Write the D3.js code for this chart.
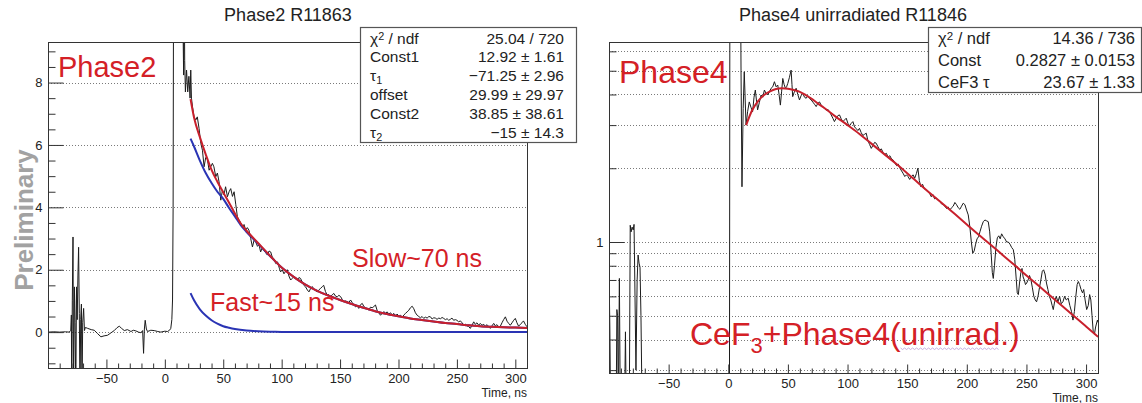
<!DOCTYPE html>
<html>
<head>
<meta charset="utf-8">
<script src="https://cdn.jsdelivr.net/npm/d3@7"></script>
<style>
  html, body { margin: 0; padding: 0; background: #fff; }
  svg text { font-family: "Liberation Sans", Arial, Helvetica, sans-serif; }
</style>
</head>
<body>
<svg id="chart" width="1142" height="403"></svg>
<script>
// values (time in ns, amplitude)
const xTicks = [-50, 0, 50, 100, 150, 200, 250, 300];
const phase2YTicks = [0, 2, 4, 6, 8];
const phase4YMajor = [1];
const phase4YMinor = [0.3, 0.4, 0.5, 0.6, 0.7, 0.8, 0.9, 2, 3, 4, 5, 6];

const phase2Data = [
  [-100,0],[-95,0.01],[-90,0],[-85,0.01],[-82,0],[-80.5,0.05],[-80,0.55],[-79.7,-2],[-79.2,1.0],[-78.6,3.05],
  [-78.1,-2],[-77.4,1.45],[-76.8,0.3],[-76.2,-2],[-75.6,1.45],[-75,0.4],[-74.4,1.8],[-73.8,2.72],[-73.2,0.6],[-72.6,-2],
  [-72,0.4],[-71.4,0.9],[-70.9,-2],[-70.3,0.3],[-69.5,0.76],[-68.8,0.05],[-68,0.15],[-66,0.12],[-63,0.08],[-60.4,0.06],
  [-57.5,-0.05],[-54.7,-0.15],[-52,-0.12],[-49,-0.1],[-46,-0.02],[-43.3,0.05],[-41,0.14],[-39,0.19],[-37,0.12],[-34.7,0.05],
  [-32,0.08],[-29,0.02],[-27,0.06],[-24.8,0.04],[-22.5,0.0],[-20.5,-0.02],[-19,0.05],[-18.2,-0.68],[-17.5,0.1],[-16.8,0.38],
  [-15.8,0.1],[-14.8,0.02],[-12,0.06],[-9.1,0.05],[-6,0.02],[-3.4,0],[0,0.03],[2.3,0.02],[4,0.06],[5.1,0.12],
  [6,0.4],[6.6,1.03],[7.1,4],[7.5,12],[14.8,12],[16.1,8.24],[16.5,12],[17,8.7],[17.6,7.7],[18.6,8.4],
  [19.6,7.7],[20.6,8.2],[21.6,7.5],[22.2,8.4],[22.8,7.5],[23.8,7.2],[25,6.9],[26.5,6.8],[27.8,6.9],[29.3,6.53],
  [30.8,6.05],[32.2,5.83],[33.6,5.3],[35,5.6],[36.4,5.55],[37.9,5.19],[39.3,5.3],[40.7,5.41],[42,5.3],[43.6,4.98],
  [45,5.1],[46.4,4.82],[47.9,4.23],[49.3,4.55],[50.6,4.4],[52,4.66],[53.6,4.34],[55,4.5],[56.4,4.6],[57.9,4.35],
  [59.3,4.5],[60.7,4.1],[62.1,3.7],[63.5,3.59],[65,3.5],[66.4,3.37],[67.8,3.45],[69.2,3.27],[70.6,3.35],[72,3.27],
  [73.5,3.0],[75,2.73],[76.4,2.95],[77.8,2.89],[79.3,2.75],[80.6,2.8],[82,2.57],[83.4,2.7],[84.7,2.62],[86.2,2.55],
  [87.8,2.47],[89.2,2.6],[90.6,2.57],[92,2.4],[93.5,2.35],[94.9,2.2],[96.5,2.25],[98,2.05],[99.1,1.93],[100.5,2.0],
  [102,1.87],[103.4,1.95],[104.8,2.0],[106.2,1.8],[107.7,1.67],[109,1.72],[110.5,1.78],[112,1.7],[113.4,1.67],[114.8,1.75],
  [116.2,1.72],[117.6,1.6],[119,1.5],[120.5,1.45],[122,1.35],[123.4,1.29],[124.8,1.4],[126.2,1.46],[127.6,1.38],[129,1.33],
  [130.5,1.29],[132,1.36],[133.3,1.4],[134.8,1.46],[136,1.5],[137.5,1.3],[139,1.19],[140.5,1.2],[141.9,1.13],[143.3,1.2],
  [144.7,1.24],[146.2,1.15],[147.6,1.13],[149,1.18],[150.4,1.14],[151.8,1.05],[153.3,0.97],[154.7,1.0],[156,0.98],[157.5,0.95],
  [159,1.03],[160.4,0.95],[161.7,0.87],[163.2,0.81],[164.6,0.85],[166,0.76],[167.5,0.88],[169,0.92],[170.4,0.82],[171.8,0.78],
  [173.2,0.75],[174.6,0.71],[176,0.8],[177.5,0.78],[178.9,0.82],[180.3,0.87],[181.7,0.7],[183.2,0.62],[184.6,0.54],[186,0.6],
  [187.5,0.66],[188.9,0.6],[190.3,0.65],[191.7,0.58],[193.2,0.62],[194.6,0.55],[196,0.6],[197.5,0.52],[198.9,0.58],[200.3,0.5],
  [201.7,0.54],[203.2,0.48],[204.6,0.55],[206,0.6],[207.4,0.65],[208.8,0.7],[210.2,0.78],[211.7,0.83],[213.1,0.75],[214.5,0.62],
  [216,0.54],[217.4,0.5],[218.8,0.46],[220.2,0.5],[221.6,0.44],[223,0.48],[224.5,0.45],[226,0.5],[227.4,0.49],[228.8,0.42],
  [230.2,0.46],[231.6,0.45],[233,0.41],[234.5,0.45],[236,0.43],[237.3,0.47],[238.7,0.44],[240.2,0.4],[241.6,0.43],[243,0.38],
  [244.4,0.41],[245.8,0.45],[247.2,0.38],[248.6,0.4],[250,0.38],[251.5,0.33],[253,0.36],[254.4,0.3],[255.8,0.22],[257.2,0.26],
  [258.6,0.2],[260,0.18],[261.5,0.12],[262.9,0.22],[264.4,0.33],[265.8,0.25],[267.2,0.3],[268.6,0.22],[270,0.28],[271.5,0.22],
  [273,0.25],[274.4,0.19],[275.8,0.24],[277.2,0.18],[278.6,0.12],[280,0.2],[281.5,0.28],[282.9,0.2],[284.3,0.24],[285.8,0.17],
  [287.2,0.19],[288.6,0.3],[290,0.4],[291.5,0.49],[292.9,0.35],[294.3,0.28],[295.7,0.22],[297.2,0.3],[298.6,0.38],[300,0.44],
  [301.4,0.3],[302.8,0.19],[304.3,0.25],[305.7,0.3],[307,0.36],[308.5,0.25],[310,0.17]
];
const phase2Fit = [
  [22,7.47],[25,6.88],[30,6.25],[35,5.7],[40,5.2],[45,4.82],[50,4.48],[55,4.15],[60,3.8],[65,3.48],[70,3.25],
  [80,2.85],[90,2.45],[100,2.07],[110,1.78],[120,1.53],[130,1.33],[140,1.17],[150,1.03],[160,0.9],[170,0.78],
  [180,0.67],[190,0.58],[200,0.51],[210,0.44],[220,0.39],[230,0.34],[240,0.29],[250,0.26],[260,0.22],[270,0.19],
  [280,0.17],[290,0.155],[300,0.145],[310,0.135]
];
const phase2Slow = [
  [22,6.2],[25,5.95],[30,5.5],[35,5.1],[40,4.78],[45,4.5],[50,4.27],[55,3.98],[60,3.71],[65,3.43],[70,3.21],
  [80,2.83],[90,2.44],[100,2.07],[110,1.78],[120,1.53],[130,1.33],[140,1.17],[150,1.03],[160,0.9],[170,0.78],
  [180,0.67],[190,0.58],[200,0.51],[210,0.44],[220,0.39],[230,0.34],[240,0.29],[250,0.26],[260,0.22],[270,0.19],
  [280,0.17],[290,0.155],[300,0.145],[310,0.135]
];
const phase2Fast = [
  [22,1.25],[25,1.02],[30,0.73],[35,0.53],[40,0.38],[45,0.27],[50,0.19],[55,0.14],[60,0.1],[70,0.05],[80,0.025],
  [90,0.012],[100,0.006],[120,0.002],[150,0],[200,0],[250,0],[310,0]
];

const phase4Data = [
  [-100,0.2],[-99.8,0.667],[-99.3,0.45],[-98.6,0.2],[-94,0.2],[-93.4,0.53],[-92.8,0.5],[-92.2,0.2],[-91.3,0.71],[-90.5,0.2],
  [-87,0.2],[-86.2,0.43],[-85.5,0.2],[-83,0.2],[-82.2,1.17],[-81.5,1.1],[-80.6,1.15],[-79.7,1.12],[-79,1.18],[-78.2,0.6],
  [-77.4,0.3],[-76.4,0.7],[-75.6,0.885],[-74.8,0.82],[-74,0.79],[-73.2,0.5],[-72.2,0.2],[-60,0.2],[-30,0.2],[0,0.2],
  [1,0.2],[1.4,20],[10,20],[10.7,5.03],[11.5,1.68],[12.5,3.5],[13.4,4.95],[14.9,3.0],[16.2,3.4],[17.6,3.73],
  [19,3.55],[20.4,3.4],[21.6,3.9],[22.7,4.17],[23.6,3.8],[24.6,3.46],[26,3.7],[27.5,3.98],[28.9,3.9],[30.3,4.17],
  [31.6,4.05],[33,3.98],[34.5,4.1],[35.9,4.24],[37.3,4.3],[38.7,4.51],[40.1,4.3],[41.5,4.37],[42.6,4.0],[43.7,3.62],
  [44.7,4.1],[45.7,4.65],[46.8,4.4],[47.9,4.24],[48.9,4.3],[49.9,4.44],[51.3,4.7],[52.7,5.03],[53.4,4.4],[54,3.92],
  [55.4,4.1],[56.9,4.24],[58.3,4.0],[59.7,3.8],[61,3.95],[62.4,4.05],[63.9,3.9],[65.3,3.86],[66.7,3.95],[68.1,3.85],
  [69.5,3.8],[71,3.72],[72.3,3.65],[73.7,3.57],[75.1,3.68],[76.5,3.73],[77.9,3.62],[79.3,3.55],[80.7,3.51],[82,3.45],
  [83.5,3.48],[84.9,3.4],[86.3,3.3],[87.7,3.2],[89,3.1],[90.5,3.2],[91.9,3.28],[93.3,3.3],[94.7,3.18],[96.1,3.1],
  [97.5,3.15],[98.9,3.2],[100.3,3.05],[101.7,2.98],[103.1,3.05],[104.5,3.1],[105.9,2.95],[107.3,2.9],[108.7,2.85],[110,2.91],
  [111.4,2.8],[112.8,2.72],[114.2,2.75],[115.7,2.78],[117,2.6],[118.5,2.5],[119.9,2.41],[121.3,2.48],[122.7,2.55],[124,2.53],
  [125.5,2.45],[127,2.37],[128.3,2.4],[129.8,2.32],[131.2,2.28],[132.6,2.3],[134,2.22],[135.5,2.25],[136.9,2.18],[138.3,2.16],
  [139.7,2.1],[141.1,2.05],[142.5,2.08],[144,2.0],[145.3,1.95],[146.5,1.91],[148,1.85],[149.4,1.88],[150.7,1.85],[152.1,1.8],
  [153.5,1.85],[155,1.88],[156.3,1.82],[157.7,1.9],[159,2.0],[160.2,1.78],[161.5,1.68],[162.9,1.72],[164.4,1.65],[166,1.63],
  [167.4,1.6],[168.8,1.58],[170.2,1.53],[171.6,1.56],[173,1.5],[174.5,1.51],[176,1.48],[177.4,1.47],[178.8,1.43],[180.2,1.42],
  [181.6,1.4],[183,1.37],[184.4,1.39],[185.8,1.35],[187.2,1.38],[188.6,1.4],[190,1.45],[191.4,1.42],[192.8,1.38],[194.2,1.36],
  [195.6,1.4],[197,1.44],[198.4,1.42],[199.8,1.35],[201.2,1.29],[202.6,1.15],[203.8,1.0],[205,0.9],[206.2,0.92],[207.4,0.98],
  [208.6,1.03],[209.8,1.05],[211,1.1],[212.4,1.16],[213.8,1.21],[215.2,1.23],[216.6,1.22],[218,1.21],[219.2,1.1],[220.4,0.9],
  [221.4,0.75],[222.2,0.71],[223.2,0.8],[224.4,0.95],[225.6,1.04],[226.8,1.06],[228,1.03],[229.2,1.08],[230.6,1.05],[232,1.03],
  [233.4,1.0],[234.8,1.0],[236.2,0.98],[237.6,0.95],[239,0.93],[240.2,0.85],[241.3,0.72],[242.3,0.62],[243.2,0.61],[244.2,0.68],
  [245.3,0.75],[246.3,0.78],[247.2,0.72],[248.2,0.7],[249.2,0.67],[250.2,0.68],[251.4,0.7],[252.6,0.73],[253.8,0.7],[255,0.65],
  [256.2,0.6],[257.4,0.58],[258.5,0.57],[259.7,0.6],[260.9,0.65],[262.1,0.7],[263.3,0.76],[264.4,0.77],[265.6,0.74],[266.8,0.68],
  [268,0.64],[269.2,0.6],[270.4,0.58],[271.6,0.55],[272.5,0.53],[273.6,0.57],[275,0.6],[276.4,0.57],[277.8,0.6],[279.2,0.56],
  [280.6,0.57],[282,0.6],[283.4,0.58],[285,0.59],[286.4,0.55],[287.8,0.52],[289,0.48],[290.2,0.52],[291.4,0.6],[292.5,0.67],
  [293.5,0.69],[294.6,0.67],[295.8,0.64],[297,0.62],[298,0.64],[299.2,0.58],[300.5,0.53],[301.8,0.55],[303,0.61],[304,0.58],
  [305,0.5],[306,0.43],[307,0.42],[308,0.45],[309.5,0.48],[310,0.47]
];
const phase4Fit = [
  [15,3.0],[20,3.45],[25,3.76],[30,3.98],[35,4.12],[40,4.21],[45,4.24],[50,4.22],[55,4.17],[60,4.1],[65,3.98],
  [70,3.84],[75,3.68],[80,3.54],[90,3.25],[100,3.0],[110,2.76],[120,2.52],[130,2.3],[140,2.1],[150,1.91],[160,1.73],
  [170,1.57],[180,1.43],[190,1.3],[200,1.18],[210,1.07],[220,0.975],[230,0.885],[240,0.805],[250,0.73],[260,0.665],
  [270,0.603],[280,0.548],[290,0.498],[300,0.452],[310,0.41]
];

const phase2StatLabels = ['χ^2 / ndf', 'Const1', 'τ_1', 'offset', 'Const2', 'τ_2'];
const phase2StatValues = ['25.04 / 720', '12.92 ± 1.61', '−71.25 ± 2.96', '29.99 ± 29.97', '38.85 ± 38.61', '−15 ± 14.3'];
const phase4StatLabels = ['χ^2 / ndf', 'Const', 'CeF3 τ'];
const phase4StatValues = ['14.36 / 736', '0.2827 ± 0.0153', '23.67 ± 1.33'];

const RED = '#d42026';
const FIT_RED = '#c8202c';
const BLUE = '#2a34b4';
const INK = '#1c1c1c';

const svg = d3.select('#chart');

// writes "a^b" as superscript and "a_b" as subscript
function richText(sel, str) {
  const parts = str.split(/([_^].)/);
  parts.forEach(p => {
    if (!p) return;
    if (p[0] === '^') {
      sel.append('tspan').attr('baseline-shift', '35%').attr('font-size', '70%').text(p[1]);
    } else if (p[0] === '_') {
      sel.append('tspan').attr('baseline-shift', '-30%').attr('font-size', '70%').text(p[1]);
    } else {
      sel.append('tspan').text(p);
    }
  });
}

function drawPanel(o) {
  const g = svg.append('g');
  const x = d3.scaleLinear().domain([-100, 310]).range([o.left, o.right]);
  const y = o.y;

  g.append('clipPath').attr('id', o.id + '-clip')
    .append('rect')
    .attr('x', o.left).attr('y', o.top)
    .attr('width', o.right - o.left).attr('height', o.bottom - o.top);

  // dotted horizontal grid
  g.append('g').selectAll('line')
    .data(o.grid)
    .join('line')
    .attr('x1', o.left).attr('x2', o.right)
    .attr('y1', d => Math.round(y(d)) + 0.5).attr('y2', d => Math.round(y(d)) + 0.5)
    .attr('stroke', '#7a7a7a')
    .attr('stroke-width', 1)
    .attr('stroke-dasharray', '1,2');

  const plot = g.append('g').attr('clip-path', `url(#${o.id}-clip)`);
  const line = d3.line().x(d => x(d[0])).y(d => y(d[1]));
  const smooth = d3.line().x(d => x(d[0])).y(d => y(d[1])).curve(d3.curveMonotoneX);

  plot.append('path').datum(o.data)
    .attr('d', line)
    .attr('fill', 'none').attr('stroke', INK).attr('stroke-width', 1);

  (o.blue || []).forEach(s => {
    plot.append('path').datum(s)
      .attr('d', smooth)
      .attr('fill', 'none').attr('stroke', BLUE).attr('stroke-width', 2);
  });

  plot.append('path').datum(o.fit)
    .attr('d', smooth)
    .attr('fill', 'none').attr('stroke', FIT_RED).attr('stroke-width', 2);

  // frame
  g.append('rect')
    .attr('x', o.left + 0.5).attr('y', o.top + 0.5)
    .attr('width', o.right - o.left).attr('height', o.bottom - o.top)
    .attr('fill', 'none').attr('stroke', '#333').attr('stroke-width', 1);

  // x axis, ticks pointing inside
  const xMinor = d3.range(-90, 311, 10).filter(v => !xTicks.includes(v));
  g.append('g').attr('transform', `translate(0,${o.bottom + 0.5})`)
    .call(d3.axisBottom(x).tickValues(xMinor).tickSize(-5).tickFormat(''));
  g.append('g').attr('transform', `translate(0,${o.bottom + 0.5})`)
    .call(d3.axisBottom(x).tickValues(xTicks).tickSize(-9).tickPadding(5));

  // y axis
  g.append('g').attr('transform', `translate(${o.left + 0.5},0)`)
    .call(d3.axisLeft(y).tickValues(o.yMinor).tickSize(-7).tickFormat(''));
  g.append('g').attr('transform', `translate(${o.left + 0.5},0)`)
    .call(d3.axisLeft(y).tickValues(o.yMajor).tickSize(-15).tickPadding(6).tickFormat(d3.format('d')));

  g.selectAll('.domain').remove();
  g.selectAll('.tick line').attr('stroke', '#333');
  g.selectAll('.tick text').attr('font-size', 13).attr('fill', '#222')
    .style('font-family', '"Liberation Sans", Arial, sans-serif');

  g.append('text')
    .attr('x', o.right).attr('y', o.bottom + 28.5)
    .attr('text-anchor', 'end').attr('font-size', 12).attr('fill', '#222')
    .text('Time, ns');

  // title
  svg.append('text')
    .attr('x', o.titleX).attr('y', 21)
    .attr('text-anchor', 'middle').attr('font-size', 18).attr('fill', '#222')
    .text(o.title);

  // fit statistics box
  const b = o.box;
  const box = svg.append('g');
  box.append('rect')
    .attr('x', b.x + 0.5).attr('y', b.y + 0.5)
    .attr('width', b.w).attr('height', b.h)
    .attr('fill', '#fff').attr('stroke', '#555').attr('stroke-width', 1.2);
  o.statLabels.forEach((lab, i) => {
    const t = box.append('text')
      .attr('x', b.x + 10).attr('y', b.y + b.first + i * b.step)
      .attr('font-size', b.font).attr('fill', '#222');
    richText(t, lab);
    box.append('text')
      .attr('x', b.x + b.w - b.padR).attr('y', b.y + b.first + i * b.step)
      .attr('text-anchor', 'end').attr('font-size', b.font).attr('fill', '#222')
      .text(o.statValues[i]);
  });
}

const phase2Y = d3.scaleLinear().domain([-1.15, 9.3]).range([368, 42]);
drawPanel({
  id: 'p2', left: 48, right: 527, top: 42, bottom: 368,
  y: phase2Y,
  grid: phase2YTicks,
  yMajor: phase2YTicks,
  yMinor: d3.range(-1, 9.01, 0.5).filter(v => !phase2YTicks.includes(v)),
  data: phase2Data, fit: phase2Fit, blue: [phase2Slow, phase2Fast],
  title: 'Phase2 R11863', titleX: 288,
  statLabels: phase2StatLabels, statValues: phase2StatValues,
  box: { x: 360, y: 27, w: 216, h: 115, first: 16.5, step: 18.8, font: 15.5, padR: 12 }
});

const phase4Y = d3.scaleLog().domain([0.292, 6.55]).range([373, 42]);
drawPanel({
  id: 'p4', left: 609, right: 1098, top: 42, bottom: 373,
  y: phase4Y,
  grid: phase4YMajor.concat(phase4YMinor),
  yMajor: phase4YMajor,
  yMinor: phase4YMinor,
  data: phase4Data, fit: phase4Fit,
  title: 'Phase4 unirradiated R11846', titleX: 853,
  statLabels: phase4StatLabels, statValues: phase4StatValues,
  box: { x: 928, y: 27, w: 213, h: 65, first: 16.5, step: 22, font: 16.5, padR: 6 }
});

// red annotations
function note(xp, yp, size, str) {
  return svg.append('text')
    .attr('x', xp).attr('y', yp)
    .attr('font-size', size).attr('fill', RED)
    .text(str);
}
note(58, 77, 29, 'Phase2');
note(352, 267, 25, 'Slow~70 ns');
note(210, 311, 25, 'Fast~15 ns');
note(619, 83, 32, 'Phase4');

const cef = svg.append('text')
  .attr('x', 690).attr('y', 345)
  .attr('font-size', 32).attr('fill', RED);
cef.append('tspan').text('CeF');
cef.append('tspan').attr('font-size', 22).attr('dy', 8).text('3');
cef.append('tspan').attr('dy', -8).text('+Phase4(unirrad.)');

// faint spell-check squiggle under "unirrad", placed from the glyph extents
const node = cef.node();
const full = node.textContent;
const i0 = full.indexOf('unirrad');
const first = node.getExtentOfChar(i0);
const last = node.getExtentOfChar(i0 + 'unirrad'.length - 1);
const sx0 = first.x, sx1 = last.x + last.width, sy = 348.5;
const squiggle = d3.range(sx0, sx1, 2).map((px, k) => [px, sy + (k % 2 ? 1 : -0.5)]);
svg.append('path')
  .attr('d', d3.line()(squiggle))
  .attr('fill', 'none').attr('stroke', '#b79bd8').attr('stroke-width', 0.8);

// watermark
svg.append('text')
  .attr('transform', 'translate(33,220) rotate(-90)')
  .attr('text-anchor', 'middle')
  .attr('font-size', 26).attr('font-weight', 'bold')
  .attr('fill', '#a2a2a2')
  .text('Preliminary');
</script>
</body>
</html>
